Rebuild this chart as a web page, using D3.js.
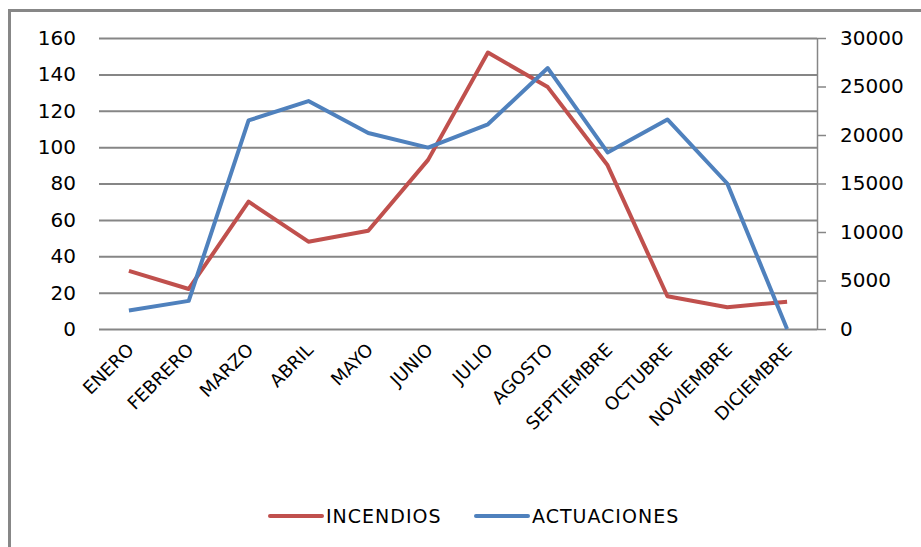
<!DOCTYPE html>
<html>
<head>
<meta charset="utf-8">
<script src="https://cdn.jsdelivr.net/npm/d3@7"></script>
<style>
  body { margin: 0; background: #fff; }
  text { font-family: "DejaVu Sans", sans-serif; fill: #000; }
</style>
</head>
<body>
<svg id="chart"></svg>
<script>
const months = ["ENERO", "FEBRERO", "MARZO", "ABRIL", "MAYO", "JUNIO", "JULIO",
                "AGOSTO", "SEPTIEMBRE", "OCTUBRE", "NOVIEMBRE", "DICIEMBRE"];
const incendios = [32, 22, 70, 48, 54, 93, 152, 133, 90, 18, 12, 15];
const actuaciones = [1900, 2900, 21500, 23500, 20200, 18700, 21100, 26900, 18200, 21600, 15000, 0];
const leftTicks = [0, 20, 40, 60, 80, 100, 120, 140, 160];
const rightTicks = [0, 5000, 10000, 15000, 20000, 25000, 30000];

const width = 921, height = 547;
const margin = { top: 38, right: 104, bottom: 218, left: 99 };

const svg = d3.select("#chart")
              .attr("width", width)
              .attr("height", height);

// chart border (left and top visible, rest falls off the picture)
svg.append("rect")
   .attr("x", 9.5).attr("y", 10.5)
   .attr("width", 1000).attr("height", 1000)
   .attr("fill", "none")
   .attr("stroke", "#878787")
   .attr("stroke-width", 3);

const x = d3.scaleBand()
            .domain(months)
            .range([margin.left, width - margin.right]);

const yL = d3.scaleLinear()
             .domain([0, 160])
             .range([height - margin.bottom, margin.top]);

const yR = d3.scaleLinear()
             .domain([0, 30000])
             .range([height - margin.bottom, margin.top]);

// gridlines + left labels
const left = svg.append("g")
   .attr("transform", `translate(${margin.left},0)`)
   .call(d3.axisLeft(yL).tickValues(leftTicks)
           .tickSize(-(width - margin.left - margin.right))
           .tickPadding(23));
left.select(".domain").remove();
left.selectAll(".tick line").attr("stroke", "#868686").attr("stroke-width", 2);
left.selectAll(".tick text").style("font-size", "20px");

// right axis
const right = svg.append("g")
   .attr("transform", `translate(${width - margin.right},0)`)
   .call(d3.axisRight(yR).tickValues(rightTicks).tickFormat(d3.format("d"))
           .tickSize(9).tickPadding(14));
right.select(".domain").attr("stroke", "#868686").attr("stroke-width", 1.5)
     .attr("d", `M0.5,${margin.top}V${height - margin.bottom}`);
right.selectAll(".tick line").attr("stroke", "#868686").attr("stroke-width", 1.5);
right.selectAll(".tick text").style("font-size", "20px");

// category labels
svg.append("g")
   .selectAll("text")
   .data(months)
   .join("text")
   .attr("transform", d => `translate(${x(d) + x.bandwidth() / 2 + 6},${height - margin.bottom + 22}) rotate(-45)`)
   .attr("text-anchor", "end")
   .style("font-size", "18px")
   .text(d => d);

const lineL = d3.line()
                .x((d, i) => x(months[i]) + x.bandwidth() / 2)
                .y(d => yL(d));
const lineR = d3.line()
                .x((d, i) => x(months[i]) + x.bandwidth() / 2)
                .y(d => yR(d));

svg.append("path")
   .datum(incendios)
   .attr("d", lineL)
   .attr("fill", "none")
   .attr("stroke", "#C0504D")
   .attr("stroke-width", 4)
   .attr("stroke-linejoin", "round");

svg.append("path")
   .datum(actuaciones)
   .attr("d", lineR)
   .attr("fill", "none")
   .attr("stroke", "#4F81BD")
   .attr("stroke-width", 4)
   .attr("stroke-linejoin", "round");

// legend
const series = [
  { name: "INCENDIOS", color: "#C0504D", x: 270 },
  { name: "ACTUACIONES", color: "#4F81BD", x: 476 }
];
const legend = svg.append("g").attr("transform", "translate(0,516)");
series.forEach(s => {
  legend.append("line")
        .attr("x1", s.x).attr("x2", s.x + 52)
        .attr("y1", 0).attr("y2", 0)
        .attr("stroke", s.color)
        .attr("stroke-width", 4)
        .attr("stroke-linecap", "round");
  legend.append("text")
        .attr("x", s.x + 56)
        .attr("y", 7)
        .style("font-size", "19px")
        .style("letter-spacing", "1px")
        .text(s.name);
});
</script>
</body>
</html>
